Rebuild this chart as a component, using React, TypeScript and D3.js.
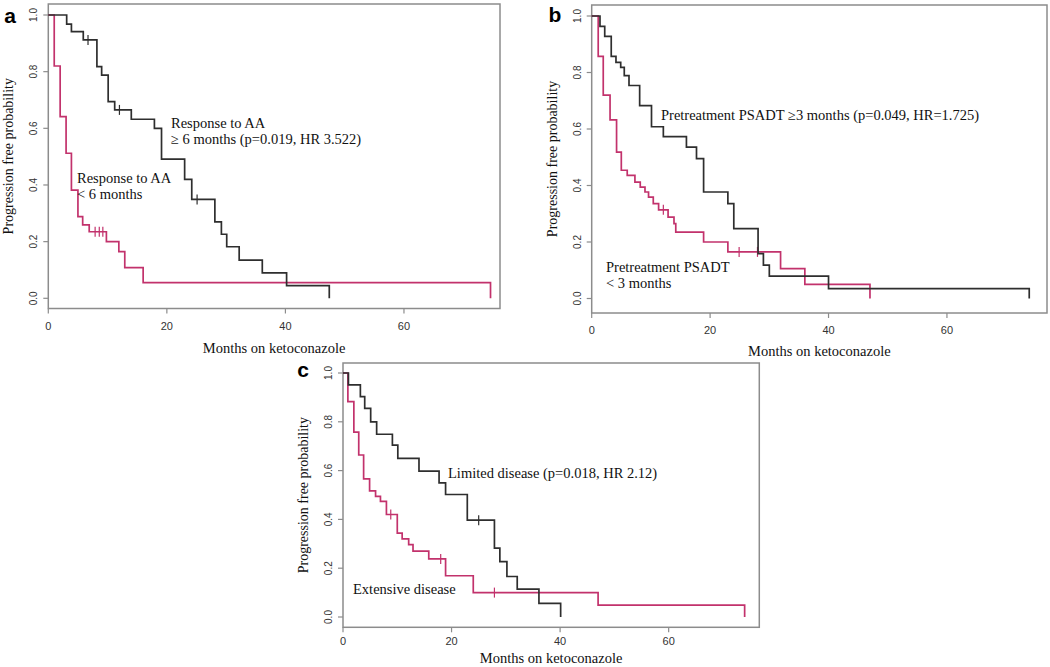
import React from "react";
import * as d3 from "d3";

// ---------- data ----------
// Panel a: Response to AA >= 6 months (dark) and < 6 months (pink)
const aLongTimes = [3.1, 3.9, 5.9, 8.2, 9.0, 10.1, 11.2, 14.0, 17.9, 19.1, 23.0, 24.2, 28.1, 29.2, 30.1, 32.2, 36.1, 40.2, 47.4];
const aLongSurv = [0.968, 0.941, 0.912, 0.818, 0.788, 0.694, 0.665, 0.632, 0.6, 0.491, 0.42, 0.349, 0.27, 0.226, 0.182, 0.135, 0.09, 0.045, 0];
const aLongCensor = [6.7, 12.0, 25.1];
const aShortTimes = [1.0, 2.0, 3.0, 3.9, 5.0, 5.8, 6.9, 9.8, 11.9, 12.9, 16.0, 74.6];
const aShortSurv = [0.82, 0.641, 0.512, 0.382, 0.288, 0.259, 0.235, 0.2, 0.165, 0.108, 0.055, 0];
const aShortCensor = [7.9, 8.6, 9.2];

// Panel b: Pretreatment PSADT >= 3 months (dark) and < 3 months (pink)
const bLongTimes = [1.4, 2.2, 3.3, 4.1, 4.9, 5.5, 6.3, 8.1, 10.1, 12.1, 16.0, 17.7, 18.9, 23.0, 24.0, 28.1, 29.0, 30.0, 40.0, 73.9];
const bLongSurv = [0.963, 0.928, 0.857, 0.836, 0.818, 0.789, 0.754, 0.683, 0.608, 0.573, 0.536, 0.495, 0.377, 0.336, 0.247, 0.159, 0.118, 0.079, 0.035, 0];
const bLongCensor: number[] = [];
const bShortTimes = [1.1, 1.95, 3.1, 4.2, 5.0, 6.0, 7.3, 8.2, 9.0, 9.6, 10.4, 11.3, 12.9, 13.9, 14.2, 18.9, 23.0, 31.9, 36.0, 47.0];
const bShortSurv = [0.857, 0.72, 0.632, 0.518, 0.454, 0.436, 0.412, 0.394, 0.377, 0.359, 0.336, 0.314, 0.288, 0.265, 0.235, 0.2, 0.165, 0.106, 0.05, 0];
const bShortCensor = [12.1, 24.9, 28.0];

// Panel c: Limited disease (dark) and Extensive disease (pink)
const cLongTimes = [1.0, 3.2, 4.0, 5.1, 6.2, 9.1, 10.1, 14.0, 17.7, 18.9, 22.9, 27.9, 28.9, 30.2, 32.1, 36.1, 40.1];
const cLongSurv = [0.951, 0.903, 0.855, 0.8, 0.749, 0.704, 0.65, 0.598, 0.55, 0.502, 0.397, 0.282, 0.227, 0.166, 0.114, 0.056, 0];
const cLongCensor = [25.0];
const cShortTimes = [0.9, 2.0, 2.9, 3.8, 4.9, 6.0, 6.9, 8.0, 10.0, 10.9, 12.1, 12.9, 15.8, 18.9, 24.0, 47.0, 74.0];
const cShortSurv = [0.883, 0.758, 0.664, 0.566, 0.517, 0.494, 0.474, 0.42, 0.344, 0.32, 0.297, 0.27, 0.238, 0.169, 0.1, 0.049, 0];
const cShortCensor = [8.8, 18.0, 27.9];

const xTicks = [0, 20, 40, 60];
const yTicks = [0, 0.2, 0.4, 0.6, 0.8, 1.0];
const xTitle = "Months on ketoconazole";
const yTitle = "Progression free probability";

// ---------- styling ----------
const DARK = "#2e2e2e";
const PINK = "#c2326c";
const FRAME = "#8c8c8c";
const SERIF = "'Liberation Serif', 'Times New Roman', serif";
const SANS = "'Liberation Sans', Arial, sans-serif";

type Curve = { times: number[]; surv: number[]; censor: number[]; color: string };
type Label = { lines: string[]; x: number; y: number };
type PanelDef = {
  letter: string;
  letterX: number;
  letterY: number;
  frame: { l: number; t: number; r: number; b: number };
  xMax: number;
  y0: number;
  y1: number;
  xTickDy: number;
  xTitleY: number;
  curves: Curve[];
  labels: Label[];
};

const panels: PanelDef[] = [
  {
    letter: "a",
    letterX: 10,
    letterY: 23,
    frame: { l: 48.3, t: 4, r: 500, b: 308.5 },
    xMax: 76.2,
    y0: 298.3,
    y1: 15,
    xTickDy: 21,
    xTitleY: 353,
    curves: [
      { times: aShortTimes, surv: aShortSurv, censor: aShortCensor, color: PINK },
      { times: aLongTimes, surv: aLongSurv, censor: aLongCensor, color: DARK },
    ],
    labels: [
      { lines: ["Response to AA", "\u2265 6 months (p=0.019, HR 3.522)"], x: 171, y: 128 },
      { lines: ["Response to AA", "< 6 months"], x: 77, y: 183 },
    ],
  },
  {
    letter: "b",
    letterX: 555,
    letterY: 22,
    frame: { l: 591.7, t: 5, r: 1047, b: 313 },
    xMax: 76.9,
    y0: 298.5,
    y1: 16,
    xTickDy: 21,
    xTitleY: 356,
    curves: [
      { times: bShortTimes, surv: bShortSurv, censor: bShortCensor, color: PINK },
      { times: bLongTimes, surv: bLongSurv, censor: bLongCensor, color: DARK },
    ],
    labels: [
      { lines: ["Pretreatment PSADT \u22653 months (p=0.049, HR=1.725)"], x: 661, y: 120 },
      { lines: ["Pretreatment PSADT", "< 3 months"], x: 606, y: 272 },
    ],
  },
  {
    letter: "c",
    letterX: 303,
    letterY: 377,
    frame: { l: 343, t: 363, r: 759.3, b: 627.3 },
    xMax: 76.7,
    y0: 617,
    y1: 373,
    xTickDy: 18,
    xTitleY: 663,
    curves: [
      { times: cShortTimes, surv: cShortSurv, censor: cShortCensor, color: PINK },
      { times: cLongTimes, surv: cLongSurv, censor: cLongCensor, color: DARK },
    ],
    labels: [
      { lines: ["Limited disease (p=0.018, HR 2.12)"], x: 448, y: 478 },
      { lines: ["Extensive disease"], x: 353, y: 594 },
    ],
  },
];

function survAt(times: number[], surv: number[], t: number): number {
  let s = 1;
  for (let i = 0; i < times.length; i++) {
    if (times[i] <= t) s = surv[i];
  }
  return s;
}

function Panel({ p }: { p: PanelDef }) {
  const { frame } = p;
  const x = d3.scaleLinear().domain([0, p.xMax]).range([frame.l, frame.r]);
  const y = d3.scaleLinear().domain([0, 1]).range([p.y0, p.y1]);
  const line = d3
    .line<[number, number]>()
    .x((d) => x(d[0]))
    .y((d) => y(d[1]))
    .curve(d3.curveStepAfter);
  const cx = (frame.l + frame.r) / 2;
  const cy = (frame.t + frame.b) / 2;
  return (
    <g>
      <rect
        x={frame.l}
        y={frame.t}
        width={frame.r - frame.l}
        height={frame.b - frame.t}
        fill="none"
        stroke={FRAME}
        strokeWidth={1.5}
      />
      {/* x ticks */}
      {xTicks.map((t) => (
        <g key={"x" + t}>
          <line x1={x(t)} x2={x(t)} y1={frame.b} y2={frame.b + 5} stroke={FRAME} strokeWidth={1.2} />
          <text
            x={x(t)}
            y={frame.b + p.xTickDy}
            textAnchor="middle"
            fontFamily={SANS}
            fontSize={11}
            fill="#333"
          >
            {t}
          </text>
        </g>
      ))}
      {/* y ticks */}
      {yTicks.map((t) => (
        <g key={"y" + t}>
          <line x1={frame.l - 5} x2={frame.l} y1={y(t)} y2={y(t)} stroke={FRAME} strokeWidth={1.2} />
          <text
            transform={`translate(${frame.l - 11},${y(t)}) rotate(-90)`}
            textAnchor="middle"
            fontFamily={SANS}
            fontSize={10}
            fill="#333"
          >
            {t.toFixed(1)}
          </text>
        </g>
      ))}
      {/* curves */}
      {p.curves.map((c, i) => {
        const pts: [number, number][] = [[0, 1], ...c.times.map((t, j) => [t, c.surv[j]] as [number, number])];
        return (
          <g key={"c" + i}>
            <path d={line(pts) || ""} fill="none" stroke={c.color} strokeWidth={1.7} />
            {c.censor.map((t, j) => {
              const s = survAt(c.times, c.surv, t);
              return (
                <line
                  key={j}
                  x1={x(t)}
                  x2={x(t)}
                  y1={y(s) - 5}
                  y2={y(s) + 5}
                  stroke={c.color}
                  strokeWidth={1.2}
                />
              );
            })}
          </g>
        );
      })}
      {/* annotations */}
      {p.labels.map((l, i) => (
        <text key={"l" + i} fontFamily={SERIF} fontSize={14.5} fill="#111">
          {l.lines.map((s, j) => (
            <tspan key={j} x={l.x} y={l.y + j * 16}>
              {s}
            </tspan>
          ))}
        </text>
      ))}
      {/* axis titles */}
      <text x={cx} y={p.xTitleY} textAnchor="middle" fontFamily={SERIF} fontSize={14.5} fill="#111">
        {xTitle}
      </text>
      <text
        transform={`translate(${frame.l - 35},${cy}) rotate(-90)`}
        textAnchor="middle"
        fontFamily={SERIF}
        fontSize={14}
        fill="#111"
      >
        {yTitle}
      </text>
      <text x={p.letterX} y={p.letterY} textAnchor="middle" fontFamily={SANS} fontWeight="bold" fontSize={21} fill="#000">
        {p.letter}
      </text>
    </g>
  );
}

export default function App() {
  return (
    <svg
      width={1050}
      height={667}
      style={{ position: "absolute", left: 0, top: 0, background: "#fff" }}
    >
      <rect x={0} y={0} width={1050} height={667} fill="#fff" />
      {panels.map((p) => (
        <Panel key={p.letter} p={p} />
      ))}
    </svg>
  );
}
